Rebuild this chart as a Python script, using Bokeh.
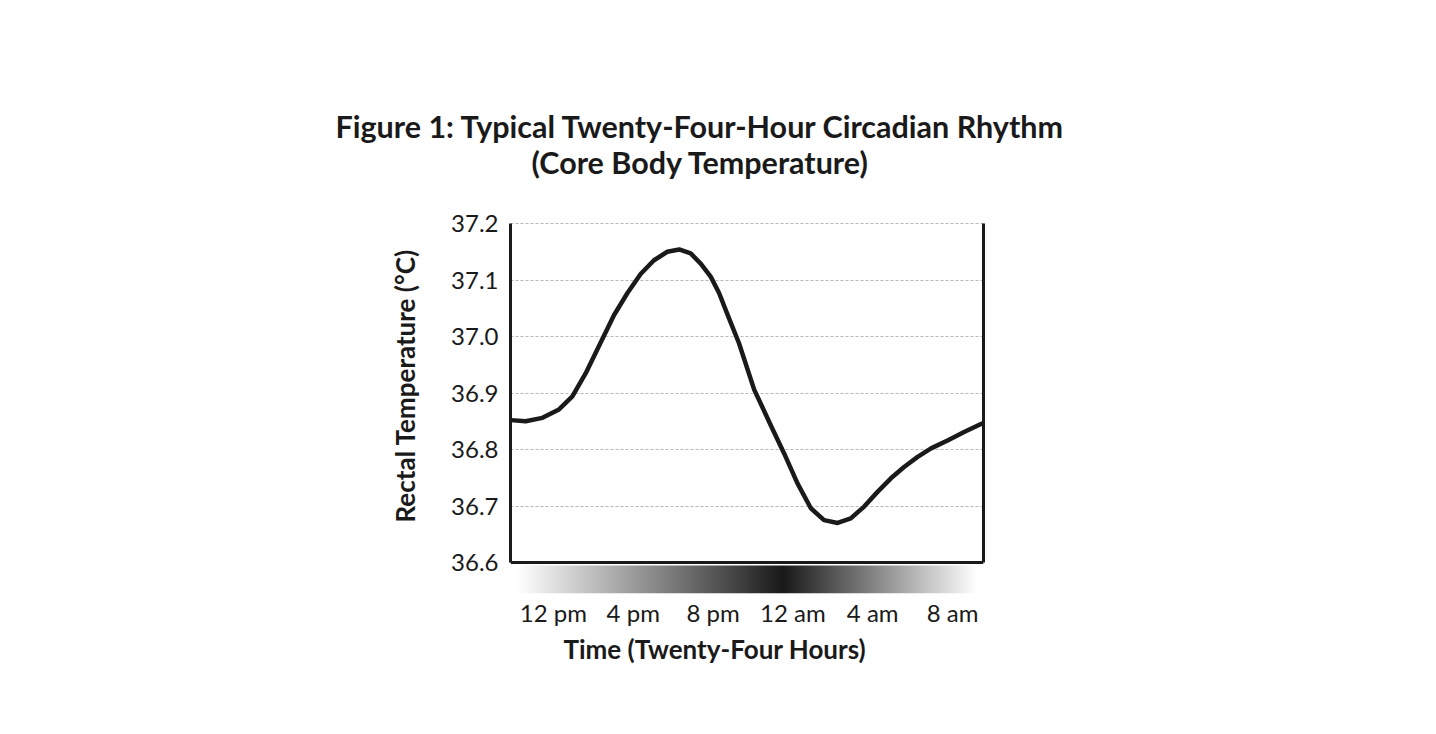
import numpy as np
from bokeh.plotting import figure
from bokeh.layouts import column
from bokeh.models import Range1d, FixedTicker, LinearAxis, Title
from bokeh.core.properties import value
from bokeh.embed import file_html
from bokeh.resources import INLINE

# values, time in hours (24 = midnight)
hours = [9.86, 10.61, 11.45, 12.28, 12.95, 13.62, 14.46, 15.04, 15.71, 16.38,
         17.04, 17.71, 18.30, 18.88, 19.38, 19.88, 20.30, 20.80, 21.30, 22.06,
         22.89, 23.56, 24.23, 24.90, 25.56, 26.24, 26.90, 27.57, 28.24, 28.91,
         29.57, 30.25, 30.92, 31.75, 32.58, 33.42, 33.55]
temps = [36.852, 36.850, 36.856, 36.871, 36.894, 36.935, 36.996, 37.038, 37.077, 37.111,
         37.135, 37.150, 37.154, 37.147, 37.129, 37.106, 37.077, 37.032, 36.988, 36.906,
         36.843, 36.793, 36.740, 36.696, 36.675, 36.670, 36.678, 36.699, 36.725, 36.749,
         36.769, 36.787, 36.802, 36.816, 36.831, 36.845, 36.847]

temp_ticks = [36.6, 36.7, 36.8, 36.9, 37.0, 37.1, 37.2]
tick_hours = [12, 16, 20, 24, 28, 32]
tick_labels = ["12 pm", "4 pm", "8 pm", "12 am", "4 am", "8 am"]

# day/night shading band under the axis (grey level at a few hours)
band_hours = [10.2, 23.55, 33.2]
band_gray = [255, 26, 255]

title1 = "Figure 1: Typical Twenty-Four-Hour Circadian Rhythm"
title2 = "(Core Body Temperature)"

FONT = "Lato"
INK = "#1a1a1a"

# --- title strip (not aligned with the chart frame below)
t = figure(width=1420, height=190, x_range=Range1d(0, 1420), y_range=Range1d(0, 190),
           toolbar_location=None, output_backend="svg", min_border=0, frame_align=False)
t.axis.visible = False
t.grid.visible = False
t.outline_line_color = None
t.text(x=[700, 700], y=[65, 29], text=[title1, title2], text_align="center",
       text_baseline="middle", text_font=value(FONT), text_font_style="bold",
       text_font_size="30.5px", text_color=INK)

# --- main chart (frame reaches down to hold the shading band)
deg_px = (temp_ticks[-1] - temp_ticks[0]) / 339.0
y_top = temp_ticks[-1] + deg_px
y_bot = temp_ticks[0] - 31 * deg_px
band_top = temp_ticks[0] - 3 * deg_px

xr = Range1d(9.85, 33.55)
p = figure(frame_width=473, frame_height=371, x_range=xr, y_range=Range1d(y_bot, y_top),
           toolbar_location=None, output_backend="svg",
           min_border_left=510, min_border_right=437, min_border_top=32, min_border_bottom=20)
p.outline_line_color = None
p.xgrid.visible = False
p.ygrid.ticker = FixedTicker(ticks=temp_ticks[1:])
p.ygrid.grid_line_color = "#b8b8b8"
p.ygrid.grid_line_dash = "3 2"
p.ygrid.grid_line_width = 1

# shading band
xs = np.linspace(xr.start, xr.end, 474)
g = np.interp(xs, band_hours, band_gray).astype(np.uint8)
img = np.zeros((1, len(xs)), dtype=np.uint32)
view = img.view(dtype=np.uint8).reshape((1, len(xs), 4))
view[0, :, 0] = g
view[0, :, 1] = g
view[0, :, 2] = g
view[0, :, 3] = 255
p.image_rgba(image=[img], x=xr.start, y=y_bot, dw=xr.end - xr.start, dh=band_top - y_bot)

p.line(hours, temps, line_color=INK, line_width=4.5, line_join="round", line_cap="round")

ya = p.yaxis[0]
ya.bounds = (temp_ticks[0], temp_ticks[-1])
ya.ticker = FixedTicker(ticks=temp_ticks)
ya.major_label_overrides = {v: "%.1f" % v for v in temp_ticks}
ya.major_label_text_font = FONT
ya.major_label_text_font_size = "24px"
ya.major_label_text_color = INK
ya.major_label_standoff = 12
ya.major_tick_out = 0
ya.major_tick_in = 0
ya.minor_tick_out = 0
ya.minor_tick_in = 0
ya.axis_line_width = 3
ya.axis_line_color = INK

# y label as a side title so it can sit centred on the box, not on the band
p.add_layout(Title(text="Rectal Temperature (°C)", align="left", offset=71,
                   vertical_align="bottom", standoff=56, text_font=FONT,
                   text_font_style="bold", text_font_size="26px", text_color=INK), "left")

ra = LinearAxis(ticker=FixedTicker(ticks=[]), bounds=(temp_ticks[0], temp_ticks[-1]),
                major_tick_out=0, minor_tick_out=0, axis_line_width=3, axis_line_color=INK)
p.add_layout(ra, "right")

# bottom edge of the chart box
ba = LinearAxis(ticker=FixedTicker(ticks=[]), fixed_location=temp_ticks[0],
                major_tick_out=0, minor_tick_out=0, axis_line_width=3, axis_line_color=INK)
p.add_layout(ba, "below")

xa = p.xaxis[0]
xa.ticker = FixedTicker(ticks=tick_hours)
xa.major_label_overrides = dict(zip(tick_hours, tick_labels))
xa.major_label_text_font = FONT
xa.major_label_text_font_size = "24px"
xa.major_label_text_color = INK
xa.major_label_standoff = 4
xa.major_tick_out = 0
xa.major_tick_in = 0
xa.minor_tick_out = 0
xa.minor_tick_in = 0
xa.axis_line_color = None

# x label sits a little left of the box centre in the original
p.add_layout(Title(text="Time (Twenty-Four Hours)", align="left", offset=53,
                   vertical_align="top", standoff=6, text_font=FONT,
                   text_font_style="bold", text_font_size="26px", text_color=INK), "below")

layout = column(t, p, spacing=0)
open("out.html", "w").write(file_html(layout, INLINE))
